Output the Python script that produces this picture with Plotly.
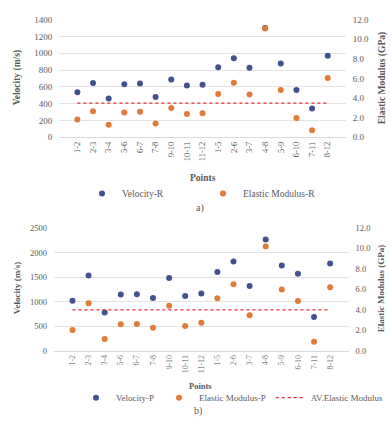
import plotly.graph_objects as go

points = ["1-2", "2-3", "3-4", "5-6", "6-7", "7-8", "9-10", "10-11", "11-12",
          "1-5", "2-6", "3-7", "4-8", "5-9", "6-10", "7-11", "8-12"]

velocity_r = [535, 645, 461, 633, 641, 480, 687, 618, 626,
              833, 940, 829, 1300, 879, 564, 342, 971]
modulus_r = [1.81, 2.66, 1.28, 2.53, 2.60, 1.42, 3.00, 2.37, 2.46,
             4.41, 5.56, 4.38, 11.11, 4.83, 1.97, 0.73, 6.05]

velocity_p = [1020, 1530, 781, 1146, 1152, 1073, 1483, 1113, 1166,
              1603, 1815, 1318, 2265, 1735, 1570, 689, 1775]
modulus_p = [2.04, 4.65, 1.15, 2.58, 2.61, 2.26, 4.39, 2.42, 2.74,
             5.12, 6.49, 3.47, 10.19, 5.98, 4.87, 0.89, 6.21]

av_modulus_r = sum(modulus_r) / len(modulus_r)
av_modulus_p = sum(modulus_p) / len(modulus_p)

W, H = 391, 429
BLUE = "#41528F"
ORANGE = "#E07B39"
RED = "#E8282E"
GRID = "#E3E3E3"
TXT = "#595959"
FONT = "Liberation Serif"


def px(x):
    return x / W


def py(y):
    return 1 - y / H


fig = go.Figure()

# ---- chart a ----
fig.add_trace(go.Scatter(x=points, y=velocity_r, mode="markers", name="Velocity-R",
                         marker=dict(color=BLUE, size=6), xaxis="x", yaxis="y",
                         legend="legend"))
fig.add_trace(go.Scatter(x=points, y=modulus_r, mode="markers", name="Elastic Modulus-R",
                         marker=dict(color=ORANGE, size=6), xaxis="x", yaxis="y2",
                         legend="legend"))
fig.add_trace(go.Scatter(x=points, y=[av_modulus_r] * len(points), mode="lines",
                         name="AV.Elastic Modulus", line=dict(color=RED, width=1.3, dash="dot"),
                         xaxis="x", yaxis="y2", showlegend=False))

# ---- chart b ----
fig.add_trace(go.Scatter(x=points, y=velocity_p, mode="markers", name="Velocity-P",
                         marker=dict(color=BLUE, size=6), xaxis="x2", yaxis="y3",
                         legend="legend2"))
fig.add_trace(go.Scatter(x=points, y=modulus_p, mode="markers", name="Elastic Modulus-P",
                         marker=dict(color=ORANGE, size=6), xaxis="x2", yaxis="y4",
                         legend="legend2"))
fig.add_trace(go.Scatter(x=points, y=[av_modulus_p] * len(points), mode="lines",
                         name="AV.Elastic Modulus", line=dict(color=RED, width=1.3, dash="dot"),
                         xaxis="x2", yaxis="y4", legend="legend2"))

tickfont = dict(family=FONT, size=9, color=TXT)

xa_dom = [px(59.3), px(345.8)]
ya_dom = [py(135.5), py(15)]
xb_dom = [px(54), px(348.6)]
yb_dom = [py(354), py(228.3)]

fig.update_layout(
    width=W, height=H,
    margin=dict(l=0, r=0, t=0, b=0),
    paper_bgcolor="white", plot_bgcolor="white",
    font=dict(family=FONT, color=TXT),
    xaxis=dict(domain=xa_dom, anchor="y", type="category", tickangle=-90,
               tickfont=dict(family=FONT, size=8.5, color=TXT), showgrid=False,
               showline=True, linecolor="#D9D9D9", ticks=""),
    yaxis=dict(domain=ya_dom, anchor="x", range=[0, 1400], dtick=200,
               showgrid=True, gridcolor=GRID, zeroline=False, tickfont=tickfont,
               ticks="", ticklabelstandoff=6),
    yaxis2=dict(domain=ya_dom, anchor="x", overlaying="y", side="right",
                range=[0, 12], dtick=2, tickformat=".1f", showgrid=False,
                zeroline=False, tickfont=tickfont, ticks="", ticklabelstandoff=6),
    xaxis2=dict(domain=xb_dom, anchor="y3", type="category", tickangle=-90,
                tickfont=dict(family=FONT, size=8, color="#7F7F7F"), showgrid=False,
                showline=True, linecolor="#D9D9D9", ticks=""),
    yaxis3=dict(domain=yb_dom, anchor="x2", range=[0, 2500], dtick=500,
                showgrid=True, gridcolor=GRID, zeroline=False,
                tickfont=dict(family=FONT, size=8.5, color=TXT), ticks="",
                ticklabelstandoff=6),
    yaxis4=dict(domain=yb_dom, anchor="x2", overlaying="y3", side="right",
                range=[0, 12], dtick=2, tickformat=".1f", showgrid=False,
                zeroline=False, tickfont=dict(family=FONT, size=8.5, color=TXT),
                ticks="", ticklabelstandoff=6),
    legend=dict(orientation="h", x=px(82), y=py(193), xanchor="left", yanchor="middle",
                font=dict(family=FONT, size=9.5, color=TXT), itemwidth=30,
                entrywidth=76, entrywidthmode="pixels",
                bgcolor="rgba(0,0,0,0)", tracegroupgap=0),
    legend2=dict(orientation="h", x=px(76), y=py(402), xanchor="left", yanchor="middle",
                 font=dict(family=FONT, size=9, color=TXT), itemwidth=30,
                 bgcolor="rgba(0,0,0,0)", tracegroupgap=0),
    showlegend=True,
)

ann = [
    dict(text="<b>Velocity (m/s)</b>", x=px(17), y=py(75), textangle=-90, size=9.5),
    dict(text="<b>Elastic Modulus (GPa)</b>", x=px(382), y=py(75), textangle=-90, size=9.5),
    dict(text="<b>Points</b>", x=px(203), y=py(177), textangle=0, size=9.5),
    dict(text="a)", x=px(200), y=py(208), textangle=0, size=10),
    dict(text="<b>Velocity (m/s)</b>", x=px(17), y=py(290), textangle=-90, size=9),
    dict(text="<b>Elastic Modulus (GPa)</b>", x=px(381), y=py(290), textangle=-90, size=9),
    dict(text="<b>Points</b>", x=px(200), y=py(390), textangle=0, size=8.5),
    dict(text="b)", x=px(198), y=py(416), textangle=0, size=10),
]
for a in ann:
    fig.add_annotation(text=a["text"], x=a["x"], y=a["y"], xref="paper", yref="paper",
                       showarrow=False, textangle=a["textangle"],
                       xanchor="center", yanchor="middle",
                       font=dict(family=FONT, size=a["size"], color=TXT))

fig.write_html("out.html", config={"displayModeBar": False},
               post_script="document.body.style.margin='0';document.body.style.overflow='hidden';")
